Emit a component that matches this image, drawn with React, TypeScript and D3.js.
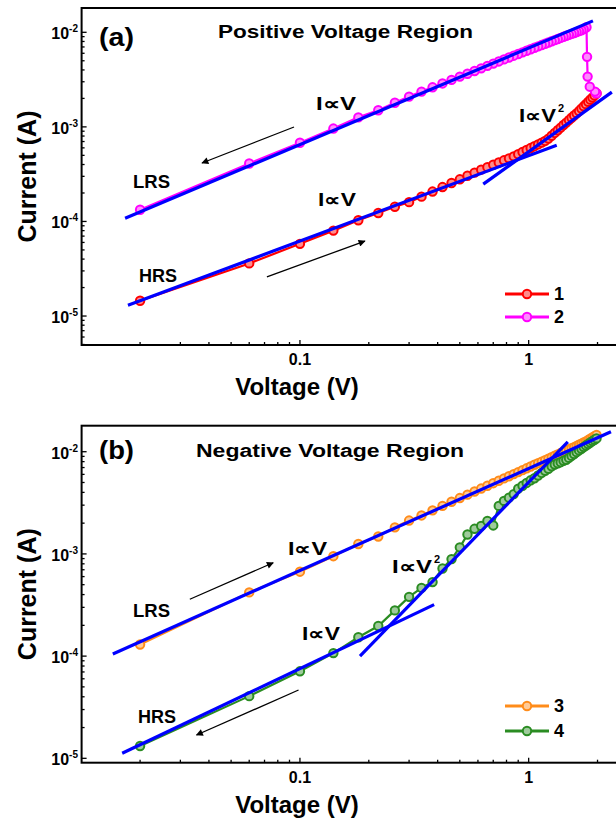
import React, { useEffect, useRef } from 'react';
import * as d3 from 'd3';

const W = 616;
const H = 826;
const FONT = '"Liberation Sans", Arial, Helvetica, sans-serif';

// voltage grid of the forward sweeps (V)
const sweepV = [
  0.02, 0.06, 0.10, 0.14, 0.18, 0.22, 0.26, 0.30, 0.34, 0.38,
  0.42, 0.46, 0.50, 0.54, 0.58, 0.62, 0.66, 0.70, 0.74, 0.78,
  0.82, 0.86, 0.90, 0.94, 0.98, 1.02, 1.06, 1.10, 1.14, 1.18,
  1.22, 1.26, 1.30, 1.34, 1.38, 1.42, 1.46, 1.50, 1.54, 1.58,
  1.62, 1.66, 1.70, 1.74, 1.78, 1.82, 1.86, 1.90, 1.94, 1.98,
];

// (a) curve 1, HRS sweep up (A)
const curve1I = [
  1.45e-5, 3.6e-5, 5.8e-5, 8.0e-5, 1.03e-4, 1.23e-4, 1.43e-4, 1.6e-4, 1.83e-4, 2.07e-4,
  2.31e-4, 2.55e-4, 2.79e-4, 3.04e-4, 3.28e-4, 3.53e-4, 3.75e-4, 3.98e-4, 4.2e-4, 4.43e-4,
  4.65e-4, 4.88e-4, 5.14e-4, 5.42e-4, 5.69e-4, 5.97e-4, 6.25e-4, 6.53e-4, 6.81e-4, 7.1e-4,
  7.52e-4, 8.06e-4, 8.63e-4, 9.22e-4, 9.83e-4, 1.046e-3, 1.11e-3, 1.18e-3, 1.25e-3, 1.32e-3,
  1.39e-3, 1.47e-3, 1.56e-3, 1.65e-3, 1.74e-3, 1.84e-3, 1.94e-3, 2.04e-3, 2.15e-3, 2.26e-3,
];

// (a) curve 2, swept back from 2 V (sweep order)
const curve2V = [
  1.98, 1.95, 1.85, 1.81, 1.80, 1.79, 1.74, 1.70, 1.66, 1.62,
  1.58, 1.54, 1.50, 1.46, 1.42, 1.38, 1.34, 1.30, 1.26, 1.22,
  1.18, 1.14, 1.10, 1.06, 1.02, 0.98, 0.94, 0.90, 0.86, 0.82,
  0.78, 0.74, 0.70, 0.66, 0.62, 0.58, 0.54, 0.50, 0.46, 0.42,
  0.38, 0.34, 0.30, 0.26, 0.22, 0.18, 0.14, 0.10, 0.06, 0.02,
];
const curve2I = [
  2.26e-3, 2.36e-3, 2.66e-3, 3.4e-3, 5.5e-3, 1.13e-2, 1.08e-2, 1.05e-2, 1.028e-2, 1.006e-2,
  9.84e-3, 9.62e-3, 9.4e-3, 9.18e-3, 8.96e-3, 8.73e-3, 8.5e-3, 8.26e-3, 8.03e-3, 7.8e-3,
  7.57e-3, 7.33e-3, 7.1e-3, 6.86e-3, 6.62e-3, 6.38e-3, 6.14e-3, 5.9e-3, 5.66e-3, 5.42e-3,
  5.17e-3, 4.92e-3, 4.67e-3, 4.42e-3, 4.16e-3, 3.9e-3, 3.65e-3, 3.4e-3, 3.14e-3, 2.88e-3,
  2.62e-3, 2.36e-3, 2.09e-3, 1.8e-3, 1.5e-3, 1.26e-3, 9.6e-4, 6.8e-4, 4.1e-4, 1.33e-4,
];

// (b) curve 3 (LRS) and curve 4 (HRS), on sweepV
const curve3I = [
  1.3e-4, 4.2e-4, 6.7e-4, 9.5e-4, 1.25e-3, 1.48e-3, 1.82e-3, 2.12e-3, 2.38e-3, 2.67e-3,
  2.95e-3, 3.24e-3, 3.52e-3, 3.8e-3, 4.08e-3, 4.36e-3, 4.64e-3, 4.92e-3, 5.2e-3, 5.48e-3,
  5.76e-3, 6.04e-3, 6.32e-3, 6.6e-3, 6.88e-3, 7.16e-3, 7.45e-3, 7.73e-3, 8.0e-3, 8.28e-3,
  8.56e-3, 8.84e-3, 9.13e-3, 9.41e-3, 9.7e-3, 9.98e-3, 1.026e-2, 1.054e-2, 1.082e-2, 1.11e-2,
  1.14e-2, 1.17e-2, 1.2e-2, 1.23e-2, 1.26e-2, 1.3e-2, 1.34e-2, 1.38e-2, 1.42e-2, 1.46e-2,
];
const curve4I = [
  1.32e-5, 4.06e-5, 7.1e-5, 1.07e-4, 1.53e-4, 1.97e-4, 2.8e-4, 3.8e-4, 4.65e-4, 5.3e-4,
  7.2e-4, 8.9e-4, 1.16e-3, 1.55e-3, 1.76e-3, 1.88e-3, 2.1e-3, 1.9e-3, 2.95e-3, 3.3e-3,
  3.55e-3, 3.85e-3, 4.35e-3, 4.65e-3, 4.95e-3, 5.25e-3, 5.5e-3, 5.85e-3, 6.2e-3, 6.5e-3,
  6.8e-3, 7.2e-3, 7.5e-3, 7.7e-3, 7.9e-3, 8.15e-3, 8.35e-3, 8.7e-3, 9.1e-3, 9.5e-3,
  9.9e-3, 1.03e-2, 1.07e-2, 1.11e-2, 1.15e-2, 1.19e-2, 1.23e-2, 1.27e-2, 1.31e-2, 1.35e-2,
];

// fitted lines, [start, end]
const fitALrsV = [0.0172, 1.91];
const fitALrsI = [1.08e-4, 1.32e-2];
const fitAHrsV = [0.0177, 1.326];
const fitAHrsI = [1.3e-5, 6.4e-4];
const fitASqV = [0.633, 2.31];
const fitASqI = [2.48e-4, 2.33e-3];
const fitBLrsV = [0.0152, 2.29];
const fitBLrsI = [1.05e-4, 1.57e-2];
const fitBHrsV = [0.0167, 0.386];
const fitBHrsI = [1.12e-5, 3.19e-4];
const fitBSqV = [0.183, 1.483];
const fitBSqI = [1.0e-4, 1.25e-2];

// sweep direction arrows, [from, to]
const arrowALrsV = [0.0942, 0.0373];
const arrowALrsI = [9.97e-4, 4.15e-4];
const arrowAHrsV = [0.0717, 0.1924];
const arrowAHrsI = [2.59e-5, 6.21e-5];
const arrowBLrsV = [0.033, 0.0764];
const arrowBLrsI = [3.6e-4, 8.2e-4];
const arrowBHrsV = [0.0986, 0.0353];
const arrowBHrsI = [4.66e-5, 1.69e-5];

const xTickLabels = [0.1, 1];
const yDecades = [-5, -4, -3, -2];

const panels = [
  {
    tag: '(a)', title: 'Positive Voltage Region', tagY: 45.5, titleX: 218, titleY: 38, titleLen: 255,
    top: 8, bottom: 345, yDomain: [4.94e-6, 1.807e-2],
    series: [
      { name: '1', color: '#ff0000', v: sweepV, i: curve1I },
      { name: '2', color: '#ff00ff', v: curve2V, i: curve2I },
    ],
    fits: [[fitALrsV, fitALrsI], [fitAHrsV, fitAHrsI], [fitASqV, fitASqI]],
    arrows: [[arrowALrsV, arrowALrsI], [arrowAHrsV, arrowAHrsI]],
    notes: [
      { t: 'I\u221DV', x: 316, y: 110, len: 40 },
      { t: 'I\u221DV', x: 318, y: 206, len: 38 },
      { t: 'I\u221DV', x: 519, y: 122, len: 37, sup: true },
      { t: 'LRS', x: 133, y: 188, len: 37 },
      { t: 'HRS', x: 139, y: 282, len: 38 },
    ],
    legendY: [300, 323],
  },
  {
    tag: '(b)', title: 'Negative Voltage Region', tagY: 459, titleX: 196, titleY: 457, titleLen: 268,
    top: 425.7, bottom: 762.7, yDomain: [9.06e-6, 1.797e-2],
    series: [
      { name: '3', color: '#ff8c1a', v: sweepV, i: curve3I },
      { name: '4', color: '#2a8c22', v: sweepV, i: curve4I },
    ],
    fits: [[fitBLrsV, fitBLrsI], [fitBHrsV, fitBHrsI], [fitBSqV, fitBSqI]],
    arrows: [[arrowBLrsV, arrowBLrsI], [arrowBHrsV, arrowBHrsI]],
    notes: [
      { t: 'I\u221DV', x: 288, y: 555, len: 39 },
      { t: 'I\u221DV', x: 392, y: 573, len: 40, sup: true },
      { t: 'I\u221DV', x: 302, y: 640, len: 38 },
      { t: 'LRS', x: 133, y: 617, len: 37 },
      { t: 'HRS', x: 138, y: 723, len: 38 },
    ],
    legendY: [712, 737],
  },
];

const App = () => {
  const svgRef = useRef(null);

  useEffect(() => {
    const svg = d3.select(svgRef.current);
    svg.selectAll('*').remove();

    svg.append('defs').append('marker')
      .attr('id', 'arrowHead')
      .attr('viewBox', '0 0 10 10')
      .attr('refX', 9).attr('refY', 5)
      .attr('markerUnits', 'userSpaceOnUse')
      .attr('markerWidth', 9).attr('markerHeight', 7)
      .attr('orient', 'auto')
      .append('path').attr('d', 'M0,0 L10,5 L0,10 z').attr('fill', '#000');

    const x = d3.scaleLog().domain([0.0111, 3]).range([81.6, 637.8]);
    const xMinor = [];
    [0.01, 0.1, 1].forEach(d => {
      for (let m = 2; m <= 9; m++) {
        const v = m * d;
        if (v > 0.0111 && v < 3.01) xMinor.push(v);
      }
    });

    panels.forEach(p => {
      const y = d3.scaleLog().domain(p.yDomain).range([p.bottom, p.top]);
      const g = svg.append('g');
      const x0 = x.range()[0];

      // frame
      g.append('rect')
        .attr('x', x0).attr('y', p.top)
        .attr('width', x.range()[1] - x0).attr('height', p.bottom - p.top)
        .attr('fill', 'none').attr('stroke', '#000').attr('stroke-width', 2);

      // x ticks, pointing inward
      xMinor.forEach(v => {
        g.append('line')
          .attr('x1', x(v)).attr('x2', x(v))
          .attr('y1', p.bottom).attr('y2', p.bottom - 3)
          .attr('stroke', '#000').attr('stroke-width', 1.3);
      });
      xTickLabels.forEach(v => {
        g.append('line')
          .attr('x1', x(v)).attr('x2', x(v))
          .attr('y1', p.bottom).attr('y2', p.bottom - 5)
          .attr('stroke', '#000').attr('stroke-width', 1.3);
        g.append('text')
          .attr('x', x(v)).attr('y', p.bottom + 20)
          .attr('text-anchor', 'middle')
          .style('font-family', FONT).style('font-weight', 'bold').style('font-size', '16px')
          .text(String(v));
      });

      // y ticks
      const [ylo, yhi] = p.yDomain;
      for (let e = -6; e <= -2; e++) {
        for (let m = 1; m <= 9; m++) {
          const v = m * Math.pow(10, e);
          if (v < ylo || v > yhi) continue;
          g.append('line')
            .attr('x1', x0).attr('x2', x0 + (m === 1 ? 5 : 3))
            .attr('y1', y(v)).attr('y2', y(v))
            .attr('stroke', '#000').attr('stroke-width', 1.3);
        }
      }
      yDecades.forEach(e => {
        const t = g.append('text')
          .attr('x', 78).attr('y', y(Math.pow(10, e)) + 7)
          .attr('text-anchor', 'end')
          .style('font-family', FONT).style('font-weight', 'bold').style('font-size', '16px');
        t.append('tspan').text('10');
        t.append('tspan').attr('dy', -7).style('font-size', '10px').text(`-${-e}`);
      });

      // axis titles
      g.append('text')
        .attr('x', 297).attr('y', p.bottom + 50)
        .attr('text-anchor', 'middle')
        .style('font-family', FONT).style('font-weight', 'bold').style('font-size', '24px')
        .text('Voltage (V)');
      const cy = (p.top + p.bottom) / 2;
      g.append('text')
        .attr('transform', `translate(36,${cy}) rotate(-90)`)
        .attr('text-anchor', 'middle')
        .style('font-family', FONT).style('font-weight', 'bold').style('font-size', '25px')
        .text('Current (A)');

      // data curves
      p.series.forEach(s => {
        const pts = s.v.map((v, k) => [v, s.i[k]]);
        g.append('path')
          .datum(pts)
          .attr('fill', 'none').attr('stroke', s.color).attr('stroke-width', 2.2)
          .attr('d', d3.line().x(d => x(d[0])).y(d => y(d[1])));
        const light = d3.interpolateRgb(s.color, '#ffffff')(0.55);
        g.selectAll(null).data(pts).enter().append('circle')
          .attr('cx', d => x(d[0])).attr('cy', d => y(d[1]))
          .attr('r', 4.2)
          .attr('fill', light).attr('stroke', s.color).attr('stroke-width', 2);
      });

      // fitted lines
      p.fits.forEach(([fv, fi]) => {
        g.append('line')
          .attr('x1', x(fv[0])).attr('y1', y(fi[0]))
          .attr('x2', x(fv[1])).attr('y2', y(fi[1]))
          .attr('stroke', '#0000ff').attr('stroke-width', 3.2);
      });

      // arrows
      p.arrows.forEach(([av, ai]) => {
        g.append('line')
          .attr('x1', x(av[0])).attr('y1', y(ai[0]))
          .attr('x2', x(av[1])).attr('y2', y(ai[1]))
          .attr('stroke', '#000').attr('stroke-width', 1.3)
          .attr('marker-end', 'url(#arrowHead)');
      });

      // panel tag and title
      g.append('text')
        .attr('x', 99).attr('y', p.tagY)
        .attr('textLength', 35).attr('lengthAdjust', 'spacingAndGlyphs')
        .style('font-family', FONT).style('font-weight', 'bold').style('font-size', '25px')
        .text(p.tag);
      g.append('text')
        .attr('x', p.titleX).attr('y', p.titleY)
        .attr('textLength', p.titleLen).attr('lengthAdjust', 'spacingAndGlyphs')
        .style('font-family', FONT).style('font-weight', 'bold').style('font-size', '18px')
        .text(p.title);

      // annotations
      p.notes.forEach(n => {
        g.append('text')
          .attr('x', n.x).attr('y', n.y)
          .attr('textLength', n.len).attr('lengthAdjust', 'spacingAndGlyphs')
          .style('font-family', FONT).style('font-weight', 'bold').style('font-size', '18px')
          .text(n.t);
        if (n.sup) {
          g.append('text')
            .attr('x', n.x + n.len + 2).attr('y', n.y - 10)
            .style('font-family', FONT).style('font-weight', 'bold').style('font-size', '11px')
            .text('2');
        }
      });

      // legend
      p.series.forEach((s, k) => {
        const ly = p.legendY[k] - 6;
        g.append('line')
          .attr('x1', 505).attr('x2', 549).attr('y1', ly).attr('y2', ly)
          .attr('stroke', s.color).attr('stroke-width', 3);
        g.append('circle')
          .attr('cx', 527).attr('cy', ly).attr('r', 4.2)
          .attr('fill', d3.interpolateRgb(s.color, '#ffffff')(0.55))
          .attr('stroke', s.color).attr('stroke-width', 2);
        g.append('text')
          .attr('x', 554).attr('y', p.legendY[k])
          .style('font-family', FONT).style('font-weight', 'bold').style('font-size', '18px')
          .text(s.name);
      });
    });
  }, []);

  return (
    <svg
      ref={svgRef}
      width={W}
      height={H}
      style={{ position: 'absolute', left: 0, top: 0, background: '#fff' }}
    />
  );
};

export default App;
